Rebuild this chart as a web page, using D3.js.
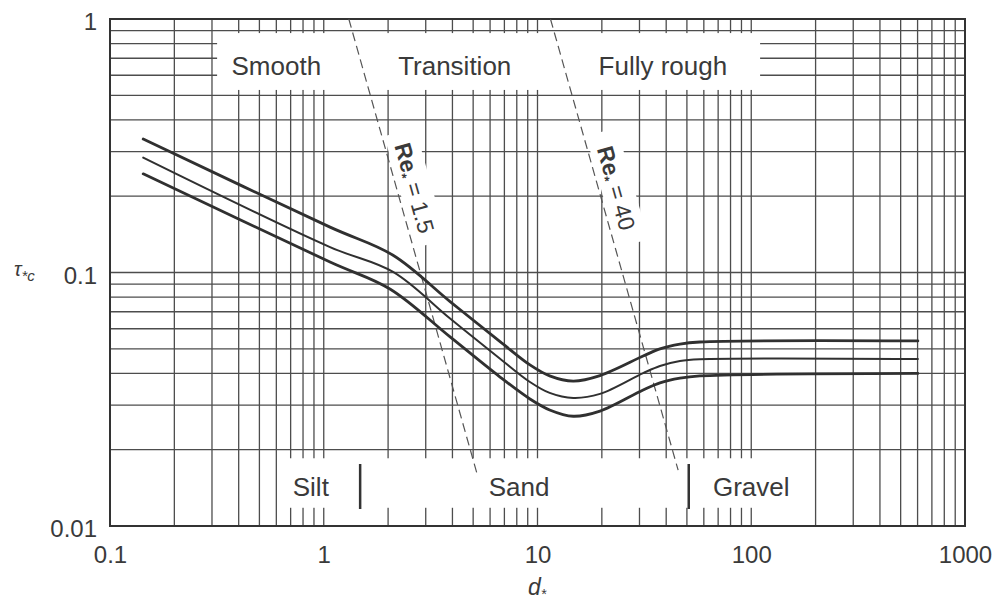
<!DOCTYPE html>
<html>
<head>
<meta charset="utf-8">
<script src="https://cdn.jsdelivr.net/npm/d3@7"></script>
<style>
  html, body { margin: 0; padding: 0; background: #fff; }
  svg { display: block; font-family: "Liberation Sans", Arial, Helvetica, sans-serif; }
  .grid line { stroke: #4d4d4d; stroke-width: 1.3; }
  .curve { fill: none; stroke: #303030; stroke-linejoin: round; stroke-linecap: round; }
  .re-line { fill: none; stroke: #555; stroke-width: 1.2; stroke-dasharray: 9 5; }
  .lbl { fill: #3a3a3a; }
</style>
</head>
<body>
<div id="chart"></div>
<script>
// three threshold curves, tau*c against d*
const upperD   = [0.143, 1.07, 2.11, 3.90, 6.68, 9.22, 11.4, 14.7, 19.6, 31.2, 37.4, 46.4, 57.5, 602];
const upperTau = [0.336, 0.151, 0.117, 0.0768, 0.0534, 0.0432, 0.0391, 0.0373, 0.0392, 0.0468, 0.0500, 0.0522, 0.0532, 0.0537];
const middleD   = [0.143, 1.07, 2.11, 3.90, 6.68, 9.22, 11.4, 14.7, 19.6, 31.2, 37.4, 46.4, 57.5, 602];
const middleTau = [0.284, 0.126, 0.1005, 0.0658, 0.0457, 0.0370, 0.0335, 0.0320, 0.0332, 0.0401, 0.0428, 0.0448, 0.0455, 0.0456];
const lowerD   = [0.143, 1.07, 2.04, 3.90, 6.68, 9.22, 11.4, 14.7, 19.6, 31.2, 37.4, 46.4, 57.5, 602];
const lowerTau = [0.245, 0.110, 0.0861, 0.0557, 0.0387, 0.0317, 0.0287, 0.0271, 0.0284, 0.0344, 0.0367, 0.0383, 0.0391, 0.0400];

// Re* = const lines (dashed)
const reValues    = ["1.5", "40"];
const reTopD      = [1.31, 11.5];
const reTopTau    = [1, 1];
const reBottomD   = [5.2, 45.5];
const reBottomTau = [0.0162, 0.0166];

// sediment classes along the bottom
const sizeClasses    = ["Silt", "Sand", "Gravel"];
const sizeBoundaries = [1.48, 51];

const regionNames = ["Smooth", "Transition", "Fully rough"];

const xTickValues = [0.1, 1, 10, 100, 1000];
const xTickLabels = ["0.1", "1", "10", "100", "1000"];
const yTickValues = [0.01, 0.1, 1];
const yTickLabels = ["0.01", "0.1", "1"];

const width = 1000, height = 603;
const plot = {left: 110, right: 965, top: 19, bottom: 526};

const x = d3.scaleLog().domain([0.1, 1000]).range([plot.left, plot.right]);
const y = d3.scaleLog().domain([0.01, 1]).range([plot.bottom, plot.top]);

const svg = d3.select('#chart').append('svg')
    .attr('width', width)
    .attr('height', height);

// log paper grid
const grid = svg.append('g').attr('class', 'grid');
grid.selectAll('line.v').data(x.ticks()).join('line')
    .attr('class', 'v')
    .attr('x1', d => x(d)).attr('x2', d => x(d))
    .attr('y1', plot.top).attr('y2', plot.bottom);
grid.selectAll('line.h').data(y.ticks()).join('line')
    .attr('class', 'h')
    .attr('x1', plot.left).attr('x2', plot.right)
    .attr('y1', d => y(d)).attr('y2', d => y(d));

// white bands where the labels sit (grid cut away)
const blank = svg.append('g').attr('fill', '#fff');
blank.append('rect')
    .attr('x', x(0.317)).attr('y', y(0.88))
    .attr('width', x(110) - x(0.317)).attr('height', y(0.525) - y(0.88));
blank.append('rect')
    .attr('x', x(0.66)).attr('y', y(0.0185))
    .attr('width', x(170) - x(0.66)).attr('height', y(0.0118) - y(0.0185));

// frame
svg.append('rect')
    .attr('x', plot.left).attr('y', plot.top)
    .attr('width', plot.right - plot.left).attr('height', plot.bottom - plot.top)
    .attr('fill', 'none').attr('stroke', '#333').attr('stroke-width', 2);

// Re* lines and their labels
reValues.forEach((re, i) => {
    const x0 = x(reTopD[i]), y0 = y(reTopTau[i]);
    const x1 = x(reBottomD[i]), y1 = y(reBottomTau[i]);
    svg.append('path').attr('class', 're-line')
        .attr('d', d3.line()([[x0, y0], [x1, y1]]));

    const angle = Math.atan2(y1 - y0, x1 - x0) * 180 / Math.PI;
    const cy = 188;
    const cx = x0 + (x1 - x0) * (cy - y0) / (y1 - y0) + 18;
    const g = svg.append('g').attr('transform', `translate(${cx},${cy}) rotate(${angle})`);
    g.append('rect').attr('x', -58).attr('y', -17).attr('width', 116).attr('height', 32).attr('fill', '#fff');
    const t = g.append('text').attr('class', 'lbl')
        .attr('text-anchor', 'middle').attr('dy', '0.35em')
        .style('font-size', '23px');
    t.append('tspan').attr('font-weight', 'bold').text('Re');
    t.append('tspan').attr('font-weight', 'bold').style('font-size', '13px').attr('dy', 5).text('*');
    t.append('tspan').attr('dy', -5).text(' = ' + re);
});

// threshold curves
const line = d3.line()
    .x(d => x(d[0]))
    .y(d => y(d[1]))
    .curve(d3.curveCatmullRom.alpha(0.5));
[[upperD, upperTau, 2.8], [middleD, middleTau, 2], [lowerD, lowerTau, 2.8]].forEach(([ds, ts, w]) => {
    svg.append('path').attr('class', 'curve')
        .attr('stroke-width', w)
        .attr('d', line(ds.map((d, i) => [d, ts[i]])));
});

// regime names in the top band
const regionAt = [0.6, 4.1, 38.6];
svg.append('g').selectAll('text').data(regionNames).join('text')
    .attr('class', 'lbl')
    .attr('x', (d, i) => x(regionAt[i]))
    .attr('y', 75)
    .attr('text-anchor', 'middle')
    .style('font-size', '26px')
    .text(d => d);

// sediment classes
const classAt = [0.87, 8.2, 100];
svg.append('g').selectAll('text').data(sizeClasses).join('text')
    .attr('class', 'lbl')
    .attr('x', (d, i) => x(classAt[i]))
    .attr('y', 496)
    .attr('text-anchor', 'middle')
    .style('font-size', '26px')
    .text(d => d);
svg.append('g').selectAll('line').data(sizeBoundaries).join('line')
    .attr('x1', d => x(d)).attr('x2', d => x(d))
    .attr('y1', 464).attr('y2', 509)
    .attr('stroke', '#333').attr('stroke-width', 2.5);

// axes (labels only)
const xAxis = svg.append('g')
    .attr('transform', `translate(0,${plot.bottom})`)
    .call(d3.axisBottom(x).tickValues(xTickValues).tickFormat((d, i) => xTickLabels[i]).tickSize(0).tickPadding(20));
const yAxis = svg.append('g')
    .attr('transform', `translate(${plot.left},0)`)
    .call(d3.axisLeft(y).tickValues(yTickValues).tickFormat((d, i) => yTickLabels[i]).tickSize(0).tickPadding(13));
[xAxis, yAxis].forEach(a => {
    a.select('.domain').remove();
    a.selectAll('text')
        .attr('fill', '#3a3a3a')
        .style('font-family', '"Liberation Sans", Arial, sans-serif')
        .style('font-size', '24px');
});
yAxis.selectAll('text').attr('dy', '0.45em');

// axis titles
const yTitle = svg.append('text').attr('class', 'lbl')
    .attr('x', 14).attr('y', 276)
    .style('font-size', '20px').style('font-style', 'italic');
yTitle.append('tspan').text('τ');
yTitle.append('tspan').attr('dy', 5).style('font-size', '15px').text('*c');

const xTitle = svg.append('text').attr('class', 'lbl')
    .attr('x', 528).attr('y', 595)
    .style('font-size', '23px').style('font-style', 'italic');
xTitle.append('tspan').text('d');
xTitle.append('tspan').attr('dy', 4).style('font-size', '14px').text('*');
</script>
</body>
</html>
